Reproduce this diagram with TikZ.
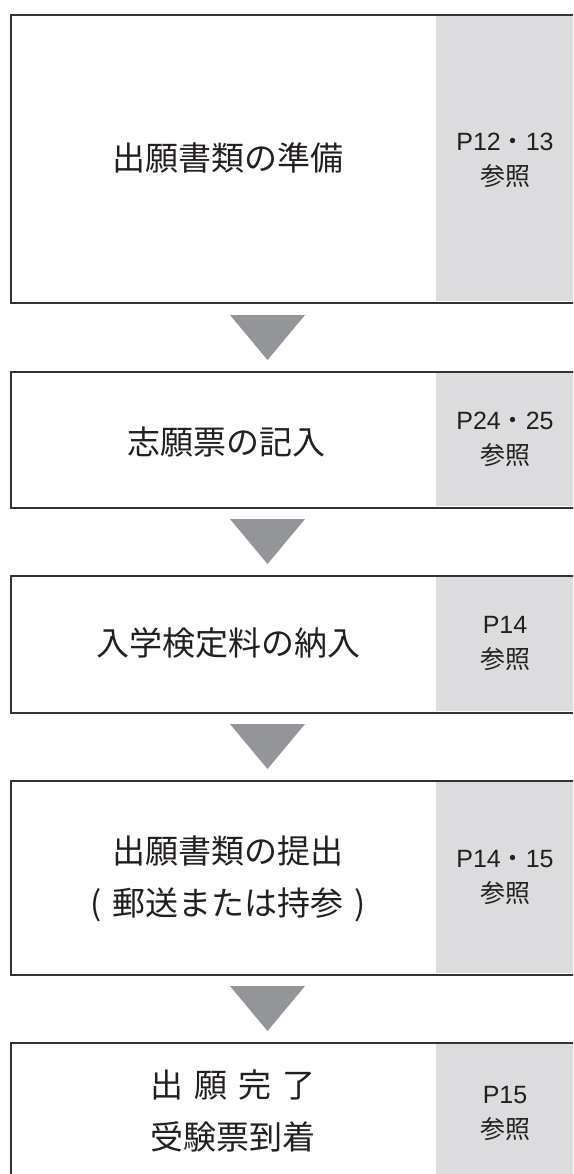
\documentclass[tikz,border=0pt]{standalone}
\usepackage{fontspec}
\setmainfont{Noto Sans CJK JP}
\newfontfamily\latin{Liberation Sans}
\definecolor{panel}{HTML}{DCDCDE}
\definecolor{arrowgrey}{HTML}{939598}
\definecolor{edge}{HTML}{333333}
\definecolor{txt}{HTML}{231F20}
\tikzset{
  stepbox/.style={rectangle, draw=edge, line width=1.6pt, anchor=north west, inner sep=0pt, minimum width=600pt},
  panelbox/.style={rectangle, fill=panel, anchor=north west, inner sep=0pt, minimum width=150pt},
  maintext/.style={text=txt, align=center, font=\fontsize{33}{52}\selectfont, inner sep=0pt},
  reftext/.style={text=txt, align=center, font=\fontsize{25}{35}\selectfont, inner sep=0pt},
  downarrow/.style={fill=arrowgrey}
}
\begin{document}
\begin{tikzpicture}[x=1pt,y=-1pt]
\useasboundingbox (0,0) rectangle (573,1174);
\clip (0,0) rectangle (573,1174);
% panels
\node[panelbox, minimum height=286.4pt] (p1) at (436,14.8) {};
\node[panelbox, minimum height=134.4pt] (p2) at (436,371.8) {};
\node[panelbox, minimum height=135.4pt] (p3) at (436,575.8) {};
\node[panelbox, minimum height=192.4pt] (p4) at (436,780.8) {};
\node[panelbox, minimum height=200pt] (p5) at (436,1042.8) {};
% boxes
\node[stepbox, minimum height=288pt] (b1) at (10,14) {};
\node[stepbox, minimum height=136pt] (b2) at (10,371) {};
\node[stepbox, minimum height=137pt] (b3) at (10,575) {};
\node[stepbox, minimum height=194pt] (b4) at (10,780) {};
\node[stepbox, minimum height=200pt] (b5) at (10,1042) {};
% arrows
\fill[downarrow] (230,315) -- (305,315) -- (267.5,360) -- cycle;
\fill[downarrow] (230,519) -- (305,519) -- (267.5,564) -- cycle;
\fill[downarrow] (230,724) -- (305,724) -- (267.5,769) -- cycle;
\fill[downarrow] (230,986) -- (305,986) -- (267.5,1031) -- cycle;
% main texts
\node[maintext] (t1) at (228,158) {出願書類の準備};
\node[maintext] (t2) at (226,442) {志願票の記入};
\node[maintext] (t3) at (228,643) {入学検定料の納入};
\node[maintext] (t4) at (228,879) {出願書類の提出\\{\spaceskip=11pt ( 郵送または持参 )}};
\node[maintext] (t5) at (233,1111) {{\spaceskip=11pt 出 願 完 了}\\受験票到着};
% reference texts
\node[reftext] (r1) at (505,160) {{\latin P12}・{\latin 13}\\参照};
\node[reftext] (r2) at (505,439) {{\latin P24}・{\latin 25}\\参照};
\node[reftext] (r3) at (505,643) {{\latin P14}\\参照};
\node[reftext] (r4) at (505,877) {{\latin P14}・{\latin 15}\\参照};
\node[reftext] (r5) at (505,1113) {{\latin P15}\\参照};
\end{tikzpicture}
\end{document}
